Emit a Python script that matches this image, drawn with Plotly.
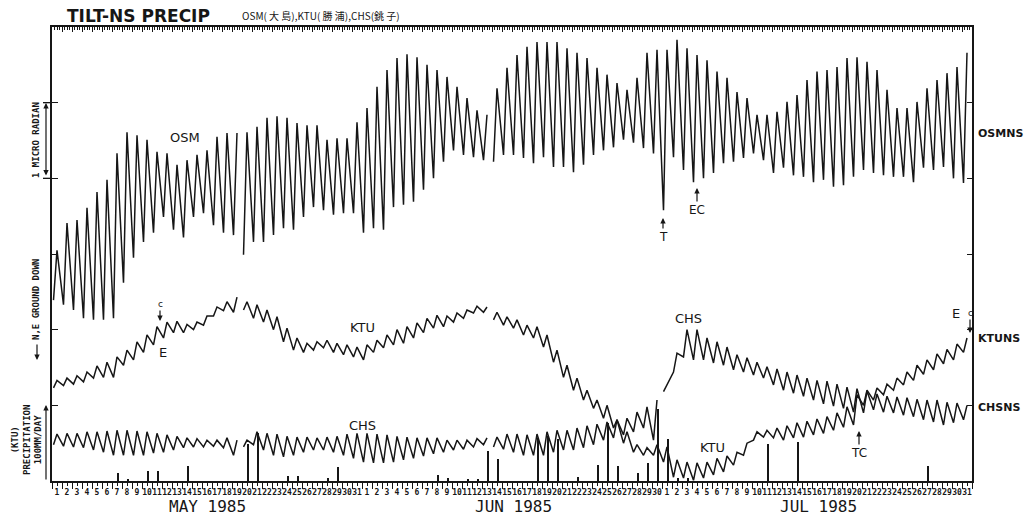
import plotly.graph_objects as go

# ---------------- data (tilt in micro-radian chart units, day index 0 = 1 May 1985) ----------------
# daily trough (L) and peak (H) of each tilt record
OSM_H = [3.05,3.41,3.45,3.61,3.82,3.98,4.33,4.61,4.57,4.51,
         4.35,4.33,4.18,4.24,4.31,4.37,4.55,4.60,4.60,4.61,
         4.68,4.80,4.82,4.80,4.73,4.70,4.70,4.51,4.53,4.53,
         4.74,4.93,5.21,5.43,5.59,5.64,5.60,5.50,5.43,5.34,
         5.21,5.06,4.90,4.84,5.19,5.46,5.63,5.74,5.80,5.80,
         5.80,5.72,5.66,5.59,5.46,5.37,5.26,5.17,5.33,5.66,
         5.70,5.70,5.83,5.72,5.63,5.56,5.41,5.33,5.14,5.06,
         4.84,4.84,4.88,5.01,5.10,5.30,5.41,5.43,5.47,5.59,
         5.60,5.54,5.43,5.17,4.93,4.93,5.01,5.19,5.30,5.39,
         5.47,5.66]
OSM_L = [2.39,2.33,2.26,2.15,2.13,2.13,2.15,2.62,2.95,3.16,
         3.28,3.49,3.32,3.22,3.49,3.54,3.38,3.28,3.25,2.99,
         3.16,3.16,3.25,3.34,3.32,3.49,3.62,3.58,3.52,3.54,
         3.54,3.28,3.34,3.32,3.62,3.65,3.69,3.85,4.00,4.22,
         4.37,4.31,4.28,4.24,4.22,4.31,4.31,4.27,4.20,4.28,
         4.15,4.15,4.08,4.18,4.31,4.37,4.41,4.51,4.47,4.40,
         4.33,3.58,4.28,4.11,3.95,4.00,4.07,4.20,4.22,4.27,
         4.33,4.24,4.07,4.14,4.04,4.02,3.95,3.98,3.89,3.91,
         4.02,4.11,4.07,4.04,4.02,4.02,3.95,4.14,4.11,4.15,
         4.00,3.94]
KTU_H = [1.33,1.36,1.39,1.44,1.52,1.57,1.64,1.73,1.84,1.93,
         2.04,2.10,2.11,2.07,2.10,2.18,2.30,2.37,2.43,2.37,
         2.33,2.26,2.17,2.02,1.89,1.82,1.84,1.86,1.82,1.80,
         1.77,1.80,1.86,1.93,2.00,2.04,2.09,2.15,2.19,2.18,
         2.22,2.26,2.31,2.30,2.23,2.17,2.13,2.06,2.04,1.93,
         1.73,1.53,1.36,1.20,1.07,1.00,0.81,0.65,0.48,0.44,
         0.48,0.45,0.28,0.25,0.24,0.25,0.30,0.33,0.38,0.50,
         0.65,0.67,0.70,0.73,0.77,0.79,0.82,0.85,0.90,0.98,
         1.14,1.20,1.23,1.28,1.36,1.44,1.53,1.60,1.68,1.74,
         1.81,1.89]
KTU_L = [1.23,1.26,1.28,1.31,1.36,1.37,1.37,1.53,1.60,1.70,
         1.80,1.89,1.96,1.96,2.00,2.06,2.18,2.25,2.23,2.26,
         2.15,2.10,2.00,1.84,1.73,1.70,1.73,1.76,1.70,1.67,
         1.64,1.60,1.70,1.76,1.80,1.82,1.89,1.96,2.02,2.04,
         2.10,2.15,2.22,2.23,2.13,2.06,2.02,1.93,1.89,1.77,
         1.57,1.37,1.20,1.07,0.96,0.83,0.70,0.50,0.38,0.34,
         0.34,0.25,0.05,0.04,0.01,0.04,0.08,0.12,0.21,0.34,
         0.54,0.58,0.57,0.54,0.57,0.58,0.61,0.63,0.67,0.71,
         0.74,1.00,1.07,1.14,1.20,1.27,1.33,1.41,1.47,1.55,
         1.60,1.70]
CHS_H = [0.62,0.63,0.63,0.65,0.65,0.66,0.67,0.67,0.66,0.65,
         0.63,0.61,0.59,0.57,0.56,0.54,0.54,0.57,0.54,0.54,
         0.65,0.63,0.62,0.59,0.58,0.58,0.57,0.58,0.59,0.62,
         0.63,0.63,0.62,0.61,0.59,0.58,0.57,0.57,0.57,0.54,
         0.54,0.54,0.56,0.57,0.58,0.62,0.62,0.61,0.62,0.65,
         0.67,0.67,0.70,0.73,0.75,0.78,0.81,0.83,0.91,0.98,
         1.07,1.27,1.69,2.00,2.00,1.89,1.84,1.77,1.67,1.63,
         1.57,1.51,1.48,1.44,1.40,1.36,1.33,1.32,1.28,1.24,
         1.22,1.19,1.15,1.12,1.11,1.10,1.08,1.07,1.07,1.04,
         1.03,1.00]
CHS_L = [0.48,0.46,0.45,0.44,0.41,0.38,0.34,0.34,0.34,0.34,
         0.37,0.38,0.41,0.44,0.45,0.45,0.46,0.44,0.34,0.45,
         0.48,0.41,0.34,0.32,0.34,0.38,0.41,0.41,0.38,0.34,
         0.30,0.25,0.24,0.24,0.25,0.28,0.30,0.33,0.36,0.38,
         0.41,0.42,0.45,0.48,0.45,0.42,0.38,0.34,0.34,0.34,
         0.38,0.41,0.41,0.44,0.48,0.54,0.57,0.61,0.65,0.70,
         0.54,1.18,1.44,1.64,1.60,1.60,1.56,1.53,1.47,1.44,
         1.40,1.36,1.27,1.20,1.16,1.12,1.07,1.02,0.99,0.96,
         0.91,0.90,0.94,0.91,0.90,0.87,0.85,0.81,0.78,0.74,
         0.77,0.81]
# day indices after which each record has a data break
OSM_GAPS = [18, 43]
KTU_GAPS = [18, 43]
CHS_GAPS = [18, 43, 60]

# KTU daily precipitation (mm/day)
PRECIP_DAY = [6,7,9,10,13,19,20,23,24,27,28,38,39,41,42,43,44,48,49,50,
              52,54,55,56,58,59,60,61,62,63,71,74,87]
PRECIP_MM = [11,3,13,13,20,49,63,7,7,4,18,8,4,3,3,40,29,57,59,56,
             5,21,77,20,11,24,95,56,4,4,49,52,20]

# tick labels
MONTH_DAYS = [31, 30, 31]
MONTH_LABELS = ["MAY 1985", "JUN 1985", "JUL 1985"]

# ---------------- figure ----------------
INK = "#161616"
N_DAYS = sum(MONTH_DAYS)


def record(lows, highs, gaps):
    xs, ys = [], []
    for d in range(len(highs)):
        xs += [d + 0.15, d + 0.5]
        ys += [lows[d], highs[d]]
        if d in gaps:
            xs.append(None)
            ys.append(None)
    return xs, ys


fig = go.Figure()
for name, lo, hi, gp in [("OSM", OSM_L, OSM_H, OSM_GAPS),
                         ("KTU", KTU_L, KTU_H, KTU_GAPS),
                         ("CHS", CHS_L, CHS_H, CHS_GAPS)]:
    xs, ys = record(lo, hi, gp)
    fig.add_trace(go.Scatter(x=xs, y=ys, mode="lines", name=name,
                             line=dict(color=INK, width=1.5),
                             connectgaps=False, hoverinfo="skip"))

fig.add_trace(go.Bar(x=[d + 0.65 for d in PRECIP_DAY], y=PRECIP_MM, width=0.15,
                     marker=dict(color=INK, line=dict(width=0)),
                     yaxis="y2", name="precip", hoverinfo="skip"))
# empty traces so the frame axes exist
fig.add_trace(go.Scatter(x=[None], y=[None], xaxis="x2", yaxis="y", showlegend=False))
fig.add_trace(go.Scatter(x=[None], y=[None], xaxis="x", yaxis="y3", showlegend=False))

tickvals, ticktext = [], []
start = 0
for n in MONTH_DAYS:
    for k in range(n):
        tickvals.append(start + k + 0.5)
        ticktext.append(str(k + 1))
    start += n

L, R, T, B = 52, 53, 27, 40
W, H = 1025, 521
PW, PH = W - L - R, H - T - B


def px(x):
    return (x - L) / PW


def py(y):
    return (H - B - y) / PH


mono = "DejaVu Sans Mono"
sans = "DejaVu Sans"
ann = []


def text(x, y, s, size=12, family=sans, weight="normal", angle=0, xanchor="center"):
    ann.append(dict(x=px(x), y=py(y), xref="paper", yref="paper", text=s,
                    showarrow=False, textangle=angle, xanchor=xanchor, yanchor="middle",
                    font=dict(family=family, size=size, color=INK, weight=weight)))


def arrow(x, y, s, ay, size=12, side="end", ax=0):
    ann.append(dict(x=px(x), y=py(y), xref="paper", yref="paper", text=s,
                    showarrow=True, ax=ax, ay=ay, arrowhead=2, arrowsize=0.9,
                    arrowwidth=1.2, arrowcolor=INK, standoff=0, startstandoff=0,
                    arrowside=side,
                    font=dict(family=sans, size=size, color=INK)))


# titles
text(65, 16, "TILT-NS PRECIP", size=17, family=sans, weight="bold", xanchor="left")
text(240, 15, "OSM( 大 島),KTU( 勝 浦),CHS(銚 子)", size=10,
     family="Noto Sans CJK JP", xanchor="left")
# month labels
month_px = [207, 513, 818]
for xp, lab in zip(month_px, MONTH_LABELS):
    text(xp, 506, lab, size=16, family=mono)
# record labels
text(185, 137, "OSM", size=13)
text(362, 327, "KTU", size=13)
text(362, 425, "CHS", size=13)
text(688, 318, "CHS", size=13)
text(712, 447, "KTU", size=13)
text(163, 352, "E", size=13)
text(956, 313, "E", size=13)
# event arrows
arrow(663, 218, "T", 19)
arrow(697, 188, "EC", 22)
arrow(859, 431, "TC", 22)
arrow(160, 321, "c", -17, size=9)
arrow(970, 333, "c", -20, size=9)
# right labels
for y, s in [(133, "OSMNS"), (338, "KTUNS"), (407, "CHSNS")]:
    text(976, y, s, size=11, family=sans, weight="bold", xanchor="left")
# left scale labels
text(36, 140, "1 MICRO RADIAN", size=9, family=mono, weight="bold", angle=-90)
text(36, 300, "N,E GROUND DOWN", size=9, family=mono, weight="bold", angle=-90)
text(26, 440, "(KTU)<br>PRECIPITATION<br>100MM/DAY", size=9, family=mono,
     weight="bold", angle=-90)
arrow(46, 103, "", 74, side="end+start")
arrow(46, 405, "", 76)
arrow(37, 360, "", -17)

shapes = []
for v in (4, 5):
    shapes.append(dict(type="line", xref="paper", yref="y", x0=px(43), x1=px(52),
                       y0=v, y1=v, line=dict(color=INK, width=1.3)))

axis_common = dict(showgrid=False, zeroline=False, showline=True,
                   linecolor=INK, linewidth=1.6)

fig.update_layout(
    width=W, height=H,
    margin=dict(l=L, r=R, t=T, b=B),
    paper_bgcolor="white", plot_bgcolor="white",
    showlegend=False, bargap=0,
    xaxis=dict(range=[0, N_DAYS], tickmode="array", tickvals=tickvals,
               ticktext=ticktext, ticks="outside", ticklen=3, tickwidth=1,
               tickcolor=INK, tickangle=0,
               tickfont=dict(family=mono, size=8, color=INK, weight="bold"),
               minor=dict(tickmode="linear", tick0=0, dtick=1, ticks="outside",
                          ticklen=6, tickwidth=1.2, tickcolor=INK, showgrid=False),
               **axis_common),
    xaxis2=dict(range=[0, N_DAYS], overlaying="x", side="top", anchor="y",
                tickmode="linear", tick0=0, dtick=1, ticks="inside", ticklen=5,
                tickwidth=1, tickcolor=INK, showticklabels=False,
                minor=dict(tickmode="linear", tick0=0, dtick=0.25, ticks="inside",
                           ticklen=3, tickwidth=0.8, tickcolor=INK, showgrid=False),
                **axis_common),
    yaxis=dict(range=[0, 6], tickmode="array", tickvals=[1, 2, 3, 4, 5],
               ticks="inside", ticklen=6, tickwidth=1.2, tickcolor=INK,
               showticklabels=False, **axis_common),
    yaxis2=dict(range=[0, 600], overlaying="y", visible=False),
    yaxis3=dict(range=[0, 6], overlaying="y", side="right", anchor="x",
                tickmode="array", tickvals=[1, 2, 3, 4, 5], ticks="inside",
                ticklen=5, tickwidth=1.2, tickcolor=INK, showticklabels=False,
                **axis_common),
    annotations=ann,
    shapes=shapes,
)

fig.write_html("out.html")
